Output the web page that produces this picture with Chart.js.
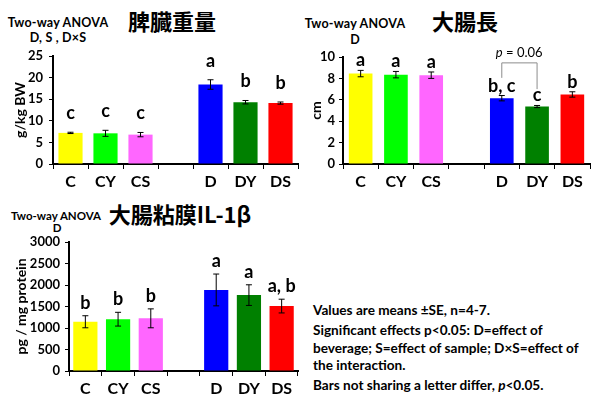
<!DOCTYPE html>
<html>
<head>
<meta charset="utf-8">
<script src="https://cdn.jsdelivr.net/npm/chart.js@4.4.1/dist/chart.umd.min.js"></script>
<style>
  body { margin: 0; background: #fff; }
  #page { position: relative; width: 597px; height: 399px; overflow: hidden; font-family: Lato, sans-serif; color: #000; }
  #page canvas { position: absolute; }
  .ttl { position: absolute; font-family: "Noto Sans CJK JP", sans-serif; font-weight: bold; font-size: 22px; line-height: 1; white-space: nowrap; transform: translate(-50%, -50%); }
  .anova { position: absolute; font-weight: bold; font-size: 12.5px; letter-spacing: 0.2px; line-height: 1; white-space: nowrap; transform: translate(-50%, -50%); }
  .anova.sm { font-size: 11.5px; letter-spacing: 0; }
  #notes { position: absolute; left: 313px; top: 302px; font-weight: bold; font-size: 13.6px; line-height: 17.5px; white-space: nowrap; }
  #notes p { margin: 0 0 2.5px 0; }
</style>
</head>
<body>
<div id="page">
  <div class="ttl" style="left:172px;top:20px">脾臓重量</div>
  <div class="ttl" style="left:465px;top:20px">大腸長</div>
  <div class="ttl" style="left:180px;top:213px">大腸粘膜IL-1β</div>

  <div class="anova" style="left:58px;top:23px">Two-way ANOVA</div>
  <div class="anova" style="left:58px;top:38px">D, S , D×S</div>
  <div class="anova" style="left:355px;top:24px">Two-way ANOVA</div>
  <div class="anova" style="left:355px;top:40px">D</div>
  <div class="anova sm" style="left:56px;top:216px">Two-way ANOVA</div>
  <div class="anova sm" style="left:57px;top:228px">D</div>

  <canvas id="spleen" width="300" height="158" style="left:0;top:42px"></canvas>
  <canvas id="colon" width="297" height="158" style="left:300px;top:42px"></canvas>
  <canvas id="il1b" width="300" height="171" style="left:0;top:228px"></canvas>

  <div id="notes">
    <p>Values are means ±SE, n=4-7.</p>
    <p>Significant effects p&lt;0.05: D=effect of<br>beverage; S=effect of sample; D×S=effect of<br>the interaction.</p>
    <p>Bars not sharing a letter differ, <i>p</i>&lt;0.05.</p>
  </div>
</div>

<script>
// groups (blank slot splits control and D groups)
const groups = ["C", "CY", "CS", "", "D", "DY", "DS"];
const barColors = ["#ffff00", "#00ff00", "#ff66ff", "#ffffff", "#0000ff", "#008000", "#ff0000"];

// spleen weight, g/kg BW
const spleenMean = [7.2, 7.1, 6.8, null, 18.4, 14.3, 14.1];
const spleenSE = [0.15, 0.7, 0.5, null, 1.1, 0.4, 0.25];
const spleenLetters = ["c", "c", "c", "", "a", "b", "b"];

// colon length, cm
const colonMean = [8.45, 8.35, 8.3, null, 6.15, 5.37, 6.5];
const colonSE = [0.3, 0.3, 0.3, null, 0.25, 0.1, 0.25];
const colonLetters = ["a", "a", "a", "", "b, c", "c", "b"];

// colonic mucosa IL-1β, pg/mg protein
const il1bMean = [1145, 1205, 1225, null, 1885, 1765, 1510];
const il1bSE = [140, 160, 220, null, 370, 240, 160];
const il1bLetters = ["b", "b", "b", "", "a", "a", "a, b"];

// y axis ranges: [max, step]
const spleenAxis = [25, 5];
const colonAxis = [10, 2];
const il1bAxis = [3000, 500];

const FONT = "Lato, sans-serif";

// error bars, group letters and optional bracket
const marksPlugin = {
  id: "marks",
  afterDatasetsDraw(chart, args, opts) {
    const ctx = chart.ctx;
    const y = chart.scales.y;
    const bars = chart.getDatasetMeta(0).data;
    ctx.save();
    ctx.strokeStyle = "#000";
    ctx.lineWidth = 1;
    bars.forEach((bar, i) => {
      const m = opts.mean[i];
      if (m == null) return;
      const top = y.getPixelForValue(m + opts.se[i]);
      const bot = y.getPixelForValue(m - opts.se[i]);
      ctx.beginPath();
      ctx.moveTo(bar.x, top); ctx.lineTo(bar.x, bot);
      ctx.moveTo(bar.x - 3, top); ctx.lineTo(bar.x + 3, top);
      ctx.moveTo(bar.x - 3, bot); ctx.lineTo(bar.x + 3, bot);
      ctx.stroke();
      ctx.fillStyle = "#000";
      ctx.font = "bold 18px " + FONT;
      ctx.textAlign = "center";
      ctx.textBaseline = "alphabetic";
      ctx.fillText(opts.letters[i], bar.x, top - opts.gap);
    });
    const br = opts.bracket;
    if (br) {
      const x1 = bars[br.from].x, x2 = bars[br.to].x;
      const yt = y.getPixelForValue(br.top);
      ctx.strokeStyle = "#8c8c8c";
      ctx.beginPath();
      ctx.moveTo(x1, y.getPixelForValue(br.left));
      ctx.lineTo(x1, yt); ctx.lineTo(x2, yt);
      ctx.lineTo(x2, y.getPixelForValue(br.right));
      ctx.stroke();
      ctx.fillStyle = "#000";
      ctx.font = "13px " + FONT;
      ctx.textAlign = "left";
      const xm = (x1 + x2) / 2;
      const w = ctx.measureText("p = 0.06").width;
      ctx.font = "italic 13px " + FONT;
      ctx.fillText("p", xm - w / 2, yt - 6);
      const wp = ctx.measureText("p").width;
      ctx.font = "13px " + FONT;
      ctx.fillText(" = 0.06", xm - w / 2 + wp, yt - 6);
    }
    ctx.restore();
  }
};

function makeChart(id, mean, se, letters, axis, opt) {
  return new Chart(document.getElementById(id), {
    type: "bar",
    data: {
      labels: groups,
      datasets: [{
        data: mean,
        backgroundColor: barColors,
        borderWidth: 0,
        barPercentage: opt.barPct,
        categoryPercentage: 1,
      }],
    },
    options: {
      responsive: false,
      animation: false,
      layout: { padding: { top: opt.padTop, right: opt.padRight, left: 0, bottom: 0 } },
      scales: {
        x: {
          afterFit: (s) => { s.height = opt.xHeight; },
          grid: { drawOnChartArea: false, tickLength: 5, color: "#000", offset: true },
          border: { color: "#000", width: 2 },
          ticks: { color: "#000", font: { family: FONT, size: 16, weight: "bold" }, padding: 3 },
        },
        y: {
          min: 0,
          max: axis[0],
          afterFit: (s) => { s.width = opt.yWidth; },
          grid: { drawOnChartArea: false, tickLength: 4, color: "#000" },
          border: { color: "#000", width: 2 },
          ticks: {
            stepSize: axis[1], color: "#000", padding: opt.tickPad,
            font: { family: FONT, size: 13, weight: "bold" },
            callback: (v) => String(v),
          },
          title: { display: true, text: opt.title, color: "#000", font: { family: FONT, size: 14, weight: "bold" }, padding: { top: opt.titlePad, bottom: 0 } },
        },
      },
      plugins: {
        legend: { display: false },
        tooltip: { enabled: false },
        marks: { mean, se, letters, gap: opt.gap, bracket: opt.bracket },
      },
    },
    plugins: [marksPlugin],
  });
}

makeChart("spleen", spleenMean, spleenSE, spleenLetters, spleenAxis,
  { barPct: 0.69, padTop: 14, padRight: 2, xHeight: 36, yWidth: 53, tickPad: 6, titlePad: 12, title: "g/kg BW", gap: 13 });

makeChart("colon", colonMean, colonSE, colonLetters, colonAxis,
  { barPct: 0.67, padTop: 15, padRight: 7, xHeight: 36, yWidth: 43, tickPad: 4, titlePad: 8, title: "cm", gap: 4,
    bracket: { from: 4, to: 5, top: 9.45, left: 8.05, right: 7.0 } });

makeChart("il1b", il1bMean, il1bSE, il1bLetters, il1bAxis,
  { barPct: 0.74, padTop: 14, padRight: 2, xHeight: 28, yWidth: 69, tickPad: 5, titlePad: 13, title: "pg / mg protein", gap: 7 });
</script>
</body>
</html>
